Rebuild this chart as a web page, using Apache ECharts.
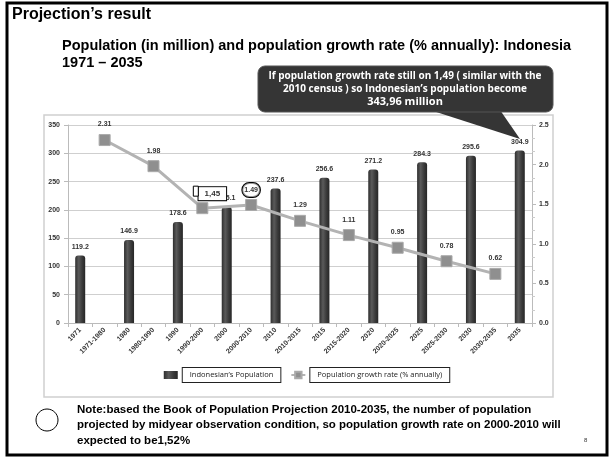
<!DOCTYPE html>
<html><head><meta charset="utf-8">
<script src="https://cdn.jsdelivr.net/npm/echarts@6/dist/echarts.min.js"></script>
<style>html,body{margin:0;padding:0;background:#fff}#c{width:614px;height:459px}</style>
</head><body><div id="c"></div>
<script>
const categories = ['1971','1971-1980','1980','1980-1990','1990','1990-2000','2000','2000-2010','2010','2010-2015','2015','2015-2020','2020','2020-2025','2025','2025-2030','2030','2030-2035','2035'];
const population = [119.2,null,146.9,null,178.6,null,205.1,null,237.6,null,256.6,null,271.2,null,284.3,null,295.6,null,304.9];
const growthRate = [null,2.31,null,1.98,null,1.45,null,1.49,null,1.29,null,1.11,null,0.95,null,0.78,null,0.62,null];
const leftTicks = {min:0,max:350,interval:50};
const rightTicks = {min:0,max:2.5,interval:0.5};
const seriesNames = ["Indonesian’s Population","Population growth rate (% annually)"];

const NARROW = '"Liberation Sans Narrow", "Arial Narrow", sans-serif';
const chart = echarts.init(document.getElementById('c'), null, {renderer:'canvas'});

const lineData = growthRate.map((v,i)=>{
  if (v===null) return null;
  if (categories[i]==='1990-2000') return {value:v,label:{formatter:'1,45',offset:[10,4],backgroundColor:'#fff',borderColor:'#000',borderWidth:1,padding:[3,6,2,6],fontSize:8}};
  if (categories[i]==='2000-2010') return {value:v,label:{formatter:'1.49',offset:[0,4],backgroundColor:'rgba(255,255,255,0.6)',borderColor:'#000',borderWidth:1,borderRadius:10,padding:[4,2,3,2]}};
  return v;
});

chart.setOption({
  animation:false,
  textStyle:{fontFamily:NARROW},
  grid:{left:68,right:82,top:125,bottom:136},
  legend:{
    bottom:71, left:'center', itemGap:9, itemWidth:14, itemHeight:8,
    textStyle:{fontFamily:'"Open Sans", sans-serif',fontSize:7.5,color:'#222',borderColor:'#222',borderWidth:1,padding:[3,7,3,7],backgroundColor:'#fff'},
    data:[{name:seriesNames[0],icon:'rect'},{name:seriesNames[1]}]
  },
  xAxis:{
    type:'category', data:categories,
    axisLine:{lineStyle:{color:'#bbb'}},
    axisTick:{show:true,lineStyle:{color:'#bbb'},length:4},
    axisLabel:{rotate:45,fontSize:7,fontWeight:'bold',color:'#333',interval:0,margin:6,fontFamily:NARROW}
  },
  yAxis:[
    {type:'value',min:leftTicks.min,max:leftTicks.max,interval:leftTicks.interval,
     axisLine:{show:true,lineStyle:{color:'#bbb'}},axisTick:{show:true,lineStyle:{color:'#bbb'},length:4},
     splitLine:{lineStyle:{color:'#cfcfcf',width:1}},
     axisLabel:{fontSize:7,fontWeight:'bold',color:'#333',margin:8}},
    {type:'value',min:rightTicks.min,max:rightTicks.max,interval:rightTicks.interval,
     axisLine:{show:true,lineStyle:{color:'#bbb'}},axisTick:{show:true,lineStyle:{color:'#bbb'},length:4},
     minorTick:{show:true,splitNumber:3,length:3,lineStyle:{color:'#ccc'}},
     splitLine:{show:false},
     axisLabel:{fontSize:7,fontWeight:'bold',color:'#333',margin:7,formatter:v=>v.toFixed(1)}}
  ],
  series:[
    {name:seriesNames[0],type:'bar',data:population,barWidth:10,barGap:'-100%',
     itemStyle:{color:new echarts.graphic.LinearGradient(0,0,1,0,[{offset:0,color:'#2e2e2e'},{offset:0.35,color:'#5a5a5a'},{offset:0.7,color:'#3a3a3a'},{offset:1,color:'#262626'}]),borderRadius:[3,3,0,0]},
     label:{show:true,position:'top',fontSize:7,fontWeight:'bold',color:'#333',distance:5,fontFamily:NARROW}},
    {name:seriesNames[1],type:'line',yAxisIndex:1,data:lineData,connectNulls:true,
     lineStyle:{color:'#b3b3b3',width:3},
     symbol:'rect',symbolSize:11,
     itemStyle:{color:'#8f8f8f',borderColor:'#aaa',borderWidth:1},
     label:{show:true,position:'top',fontSize:7,fontWeight:'bold',color:'#333',distance:6,fontFamily:NARROW},
     z:5}
  ],
  graphic:[
    {type:'rect',shape:{x:7,y:3,width:600,height:452},style:{fill:'none',stroke:'#000',lineWidth:3},silent:true,z:-10},
    {type:'rect',shape:{x:44,y:115,width:509,height:282},style:{fill:'none',stroke:'#d0d0d0',lineWidth:1.5},silent:true,z:-5},
    {type:'text',left:12,top:7,style:{text:"Projection’s result",font:'bold 16px '+NARROW,fill:'#000'}},
    {type:'text',left:62,top:37,style:{text:"Population (in million) and population growth rate (% annually): Indonesia\n1971 – 2035",font:'bold 14.5px '+NARROW,fill:'#000',lineHeight:17}},
    {type:'polygon',shape:{points:[[430,110],[500,110],[520,139]]},style:{fill:'#353535'},z:20},
    {type:'rect',shape:{x:258,y:66,width:295,height:46,r:7},style:{fill:'#353535',stroke:'#555',lineWidth:1},z:20},
    {type:'text',x:405,y:69,z:21,style:{text:"If population growth rate still on 1,49 ( similar with the\n2010 census ) so Indonesian’s population become",font:'bold 10px "Open Sans", sans-serif',fill:'#fff',align:'center',lineHeight:13.5}},
    {type:'text',x:405,y:96,z:21,style:{text:"343,96 million",font:'bold 11px "Open Sans", sans-serif',fill:'#fff',align:'center'}},
    {type:'ellipse',shape:{cx:47,cy:420,rx:11,ry:11},style:{fill:'none',stroke:'#000',lineWidth:1}},
    {type:'text',left:77,top:402,style:{text:"Note:based the Book of Population Projection 2010-2035, the number of population\nprojected by midyear observation condition, so population growth rate on 2000-2010 will\nexpected to be1,52%",font:'bold 11.5px '+NARROW,fill:'#000',lineHeight:15.5}},
    {type:'text',left:584,top:437,style:{text:"8",font:'6px '+NARROW,fill:'#333'}}
  ]
});
const p = chart.convertToPixel({xAxisIndex:0,yAxisIndex:1},[5,growthRate[5]]);
chart.setOption({graphic:[{type:'rect',id:'bracket',shape:{x:p[0]-9,y:p[1]-22,width:5,height:10},style:{fill:'#fff',stroke:'#000',lineWidth:1},z:100}]});
</script></body></html>
